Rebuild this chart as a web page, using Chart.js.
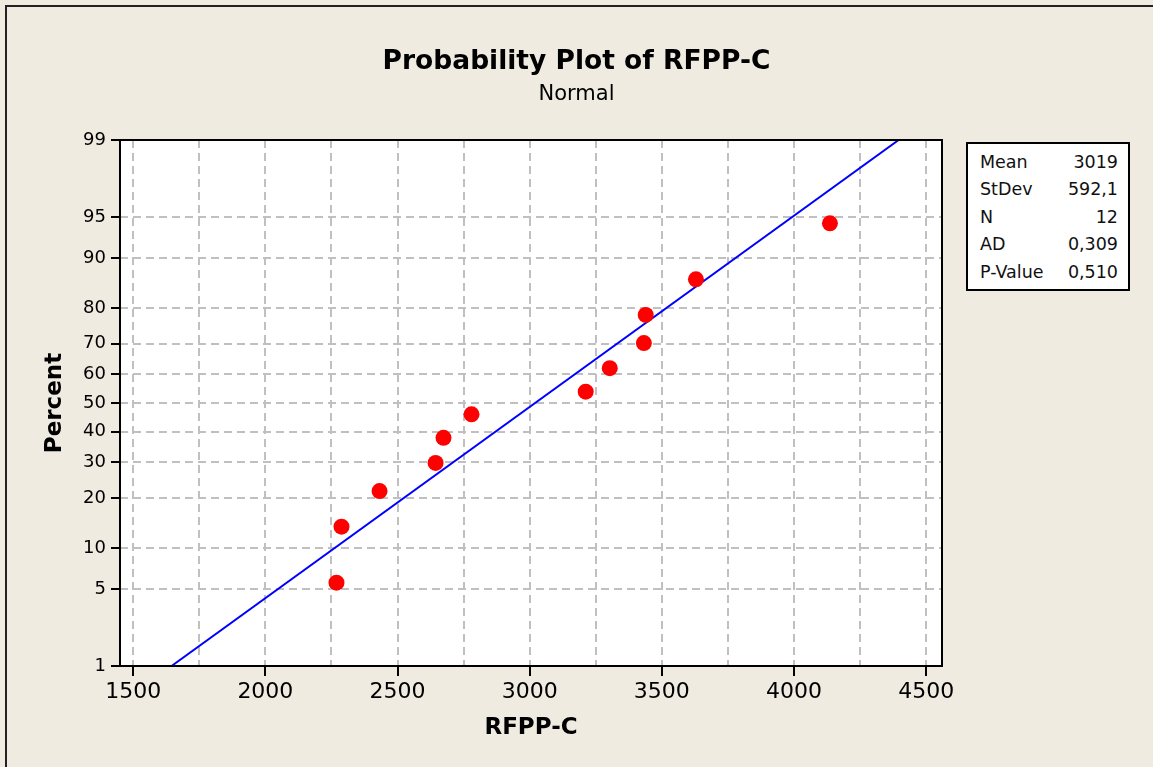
<!DOCTYPE html>
<html lang="en">

<head>
    <meta charset="UTF-8">
    <title>Probability Plot of RFPP-C</title>
    <script src="https://cdn.jsdelivr.net/npm/chart.js"></script>
    <style>
        html, body {
            margin: 0;
            padding: 0;
            background-color: #efebe1;
            overflow: hidden;
        }

        .frame {
            position: absolute;
            left: 5px;
            top: 5px;
            width: 1200px;
            height: 800px;
            border-left: 2px solid #222;
            border-top: 2px solid #222;
        }

        .chart-box {
            position: absolute;
            left: 0;
            top: 0;
            width: 1153px;
            height: 767px;
        }

        .stats {
            position: absolute;
            left: 966px;
            top: 142px;
            width: 160px;
            background: #fff;
            border: 2px solid #000;
            font-family: Tahoma, "DejaVu Sans", sans-serif;
            font-size: 17.5px;
            color: #111;
            padding: 4px 0 3px 0;
        }

        .stats table {
            border-collapse: collapse;
            width: 100%;
        }

        .stats td {
            padding: 0 10px 0 12px;
            height: 27.5px;
        }

        .stats td.v {
            text-align: right;
            padding-left: 0;
        }
    </style>
</head>

<body>
    <div class="frame"></div>
    <div class="chart-box">
        <canvas id="probPlot" width="1153" height="767"></canvas>
    </div>
    <div class="stats">
        <table id="statsTable"></table>
    </div>

    <script>
        // data
        const rfppValues = [2269, 2288, 2432, 2644, 2674, 2780, 3212, 3303, 3432, 3439, 3629, 4136];
        const percentValues = [5.6, 13.7, 21.8, 29.8, 37.9, 46.0, 54.0, 62.1, 70.2, 78.2, 86.3, 94.4];

        // fitted normal line end points (x, percent)
        const fitX = [1645, 4396];
        const fitPercent = [1, 99];

        // axes
        const yTickPercents = [1, 5, 10, 20, 30, 40, 50, 60, 70, 80, 90, 95, 99];
        const xTickLabels = [1500, 2000, 2500, 3000, 3500, 4000, 4500];
        const xGridLines = [1500, 1750, 2000, 2250, 2500, 2750, 3000, 3250, 3500, 3750, 4000, 4250, 4500];

        // stats box
        const statNames = ['Mean', 'StDev', 'N', 'AD', 'P-Value'];
        const statValues = ['3019', '592,1', '12', '0,309', '0,510'];

        const FONT = 'Tahoma, "DejaVu Sans", sans-serif';

        // inverse normal cdf (Acklam), used for the probability scale
        function probit(p) {
            const a = [-39.69683028665376, 220.9460984245205, -275.9285104469687, 138.3577518672690, -30.66479806614716, 2.506628277459239];
            const b = [-54.47609879822406, 161.5858368580409, -155.6989798598866, 66.80131188771972, -13.28068155288572];
            const c = [-0.007784894002430293, -0.3223964580411365, -2.400758277161838, -2.549732539343734, 4.374664141464968, 2.938163982698783];
            const d = [0.007784695709041462, 0.3224671290700398, 2.445134137142996, 3.754408661907416];
            const pl = 0.02425;
            let q, r;
            if (p < pl) {
                q = Math.sqrt(-2 * Math.log(p));
                return (((((c[0] * q + c[1]) * q + c[2]) * q + c[3]) * q + c[4]) * q + c[5]) /
                    ((((d[0] * q + d[1]) * q + d[2]) * q + d[3]) * q + 1);
            }
            if (p > 1 - pl) {
                q = Math.sqrt(-2 * Math.log(1 - p));
                return -(((((c[0] * q + c[1]) * q + c[2]) * q + c[3]) * q + c[4]) * q + c[5]) /
                    ((((d[0] * q + d[1]) * q + d[2]) * q + d[3]) * q + 1);
            }
            q = p - 0.5;
            r = q * q;
            return (((((a[0] * r + a[1]) * r + a[2]) * r + a[3]) * r + a[4]) * r + a[5]) * q /
                (((((b[0] * r + b[1]) * r + b[2]) * r + b[3]) * r + b[4]) * r + 1);
        }
        const z = pct => probit(pct / 100);

        // stats table
        const tbl = document.getElementById('statsTable');
        statNames.forEach((name, i) => {
            const tr = document.createElement('tr');
            tr.innerHTML = '<td>' + name + '</td><td class="v">' + statValues[i] + '</td>';
            tbl.appendChild(tr);
        });

        // white plot area + black frame
        const plotFrame = {
            id: 'plotFrame',
            beforeDraw(chart) {
                const { ctx, chartArea: a } = chart;
                ctx.save();
                ctx.fillStyle = '#ffffff';
                ctx.fillRect(a.left, a.top, a.right - a.left, a.bottom - a.top);
                ctx.restore();
            },
            afterDraw(chart) {
                const { ctx, chartArea: a } = chart;
                ctx.save();
                ctx.strokeStyle = '#000';
                ctx.lineWidth = 2;
                ctx.strokeRect(a.left, a.top, a.right - a.left, a.bottom - a.top);
                ctx.restore();
            }
        };

        const ctx = document.getElementById('probPlot').getContext('2d');
        const probPlot = new Chart(ctx, {
            type: 'scatter',
            data: {
                datasets: [{
                    label: 'RFPP-C',
                    data: rfppValues.map((v, i) => ({ x: v, y: z(percentValues[i]) })),
                    backgroundColor: '#ff0000',
                    borderWidth: 0,
                    pointRadius: 8,
                    order: 1
                }, {
                    label: 'Fit',
                    type: 'line',
                    data: fitX.map((v, i) => ({ x: v, y: z(fitPercent[i]) })),
                    borderColor: '#0000ff',
                    borderWidth: 2,
                    pointRadius: 0,
                    fill: false,
                    order: 2
                }]
            },
            options: {
                responsive: false,
                animation: false,
                layout: { padding: 0 },
                plugins: {
                    legend: { display: false },
                    tooltip: { enabled: false },
                    title: {
                        display: true,
                        text: 'Probability Plot of RFPP-C',
                        color: '#000',
                        font: { family: FONT, size: 26.5, weight: 'bold' },
                        padding: { top: 46, bottom: 2 }
                    },
                    subtitle: {
                        display: true,
                        text: 'Normal',
                        color: '#000',
                        font: { family: FONT, size: 21 },
                        padding: { top: 2, bottom: 33 }
                    }
                },
                scales: {
                    x: {
                        type: 'linear',
                        min: 1450,
                        max: 4560,
                        afterBuildTicks: s => { s.ticks = xGridLines.map(v => ({ value: v })); },
                        afterFit: s => { s.height = 101; },
                        ticks: {
                            autoSkip: false,
                            maxRotation: 0,
                            padding: 3,
                            color: '#000',
                            font: { family: FONT, size: 22 },
                            callback: v => xTickLabels.includes(v) ? String(v) : ''
                        },
                        grid: {
                            color: '#c0c0c0',
                            lineWidth: 2,
                            tickLength: 10,
                            tickWidth: 2,
                            tickColor: c => xTickLabels.includes(c.tick && c.tick.value) ? '#000' : 'rgba(0,0,0,0)'
                        },
                        border: { display: false, dash: [8, 5] },
                        title: {
                            display: true,
                            text: 'RFPP-C',
                            color: '#000',
                            font: { family: FONT, size: 23, weight: 'bold' },
                            padding: { top: 0, bottom: 25 }
                        }
                    },
                    y: {
                        type: 'linear',
                        min: z(yTickPercents[0]),
                        max: z(yTickPercents[yTickPercents.length - 1]),
                        afterBuildTicks: s => { s.ticks = yTickPercents.map(p => ({ value: z(p) })); },
                        afterFit: s => { s.width = 120; },
                        ticks: {
                            autoSkip: false,
                            padding: 5,
                            color: '#000',
                            font: { family: FONT, size: 18 },
                            callback: (v, i) => String(yTickPercents[i])
                        },
                        grid: {
                            color: '#c0c0c0',
                            lineWidth: 2,
                            tickLength: 9,
                            tickWidth: 2,
                            tickColor: '#000'
                        },
                        border: { display: false, dash: [8, 5] },
                        title: {
                            display: true,
                            text: 'Percent',
                            color: '#000',
                            font: { family: FONT, size: 23, weight: 'bold' },
                            padding: { top: 41, bottom: 0 }
                        }
                    },
                    pad: {
                        type: 'linear',
                        position: 'right',
                        display: true,
                        afterFit: s => { s.width = 211; },
                        ticks: { display: false },
                        grid: { display: false },
                        border: { display: false }
                    }
                }
            },
            plugins: [plotFrame]
        });
    </script>
</body>

</html>
